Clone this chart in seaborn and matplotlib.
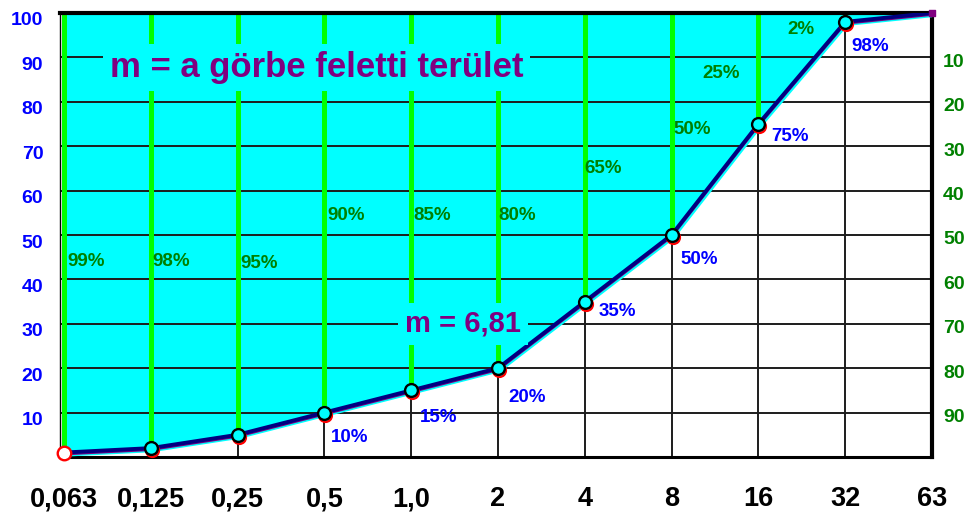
import numpy as np
import pandas as pd
import seaborn as sns
import matplotlib.pyplot as plt
from matplotlib.transforms import ScaledTranslation, offset_copy

# Sieve sizes (mm) and cumulative passing (%)
sizes = ["0,063", "0,125", "0,25", "0,5", "1,0", "2", "4", "8", "16", "32", "63"]
passing = [1, 2, 5, 10, 15, 20, 35, 50, 75, 98, 100]
left_ticks = [10, 20, 30, 40, 50, 60, 70, 80, 90, 100]
right_ticks = [10, 20, 30, 40, 50, 60, 70, 80, 90]
title_text = "m = a görbe feletti terület"
m_text = "m = 6,81"

CYAN = "#00FFFF"
LIME = "#00FF00"
DKGREEN = "#008000"
NAVY = "#000080"
PURPLE = "#800080"
BLUE = "#0000FF"
RED = "#FF0000"
GRID = "#1c1c1c"

sns.set_theme(style="white")
plt.rcParams["font.family"] = ["Liberation Sans", "DejaVu Sans"]

df = pd.DataFrame({"pos": np.arange(len(sizes)), "size": sizes, "passing": passing})
df["retained"] = 100 - df["passing"]

fig = plt.figure(figsize=(9.71, 5.15), dpi=100)
W, H = 971, 515
ax = fig.add_axes([60 / W, 1 - 457 / H, (932 - 60) / W, (457 - 13) / H])
ax.set_xlim(-0.045, 10)
ax.set_ylim(0, 100)

px = 72 / fig.dpi  # points per pixel

# area above the curve
ax.fill_between(df["pos"], df["passing"], 100, color=CYAN, lw=0, zorder=1)

# horizontal grid
for t in left_ticks[:-1]:
    ax.axhline(t, color=GRID, lw=1.4, zorder=2)

# vertical lines: black below the curve, green above it
ax.vlines(df["pos"], 0, df["passing"], color=GRID, lw=1.4, zorder=2)
inner = df.iloc[:-1]
ax.vlines(inner["pos"], inner["passing"], 100, color=LIME, lw=3.6, zorder=3)

# curve with a slight shadow
shadow = offset_copy(ax.transData, fig=fig, x=1.5, y=-2, units="dots")
ax.plot(df["pos"], df["passing"], color=CYAN, lw=3, transform=shadow, zorder=5)
under = offset_copy(ax.transData, fig=fig, x=0, y=-1.5, units="dots")
ax.plot(df["pos"], df["passing"], color=PURPLE, lw=2, transform=under, zorder=5)
sns.lineplot(data=df, x="pos", y="passing", color=NAVY, lw=2.8, ax=ax, zorder=6)

# point markers
mid = df.iloc[1:-1]
red_t = offset_copy(ax.transData, fig=fig, x=1, y=-2, units="dots")
ax.scatter(mid["pos"], mid["passing"], s=85, facecolor=CYAN, edgecolor=RED,
           linewidth=1.7, transform=red_t, zorder=7, clip_on=False)
ax.scatter(mid["pos"], mid["passing"], s=85, facecolor=CYAN, edgecolor="black",
           linewidth=1.7, zorder=8, clip_on=False)
first = df.iloc[:1]
ax.scatter(first["pos"], first["passing"], s=95, facecolor="white", edgecolor=RED,
           linewidth=1.7, zorder=8, clip_on=False)
last = df.iloc[-1:]
ax.scatter(last["pos"], last["passing"], s=18, marker="s", color=PURPLE,
           zorder=8, clip_on=False)

# passing labels (blue) under the points, offsets in pixels
blue_offsets = {3: (7, -25), 4: (9, -27), 5: (10, -29), 6: (14, -10),
                7: (9, -25), 8: (13, -13), 9: (6, -25)}
for i, (dx, dy) in blue_offsets.items():
    ax.annotate(f"{passing[i]}%", (df["pos"][i], passing[i]),
                xytext=(dx * px, dy * px), textcoords="offset points",
                ha="left", va="center", fontsize=13.5, weight="bold",
                color=BLUE, zorder=9)

# retained labels (green) above the curve
green_pos = [(0.04, 44), (1.02, 44), (2.03, 43.5), (3.03, 54.5), (4.03, 54.5),
             (5.0, 54.5), (6.0, 65), (7.02, 73.8), (7.35, 86.3), (8.33, 96.2)]
for i, (gx, gy) in enumerate(green_pos):
    ax.text(gx, gy, f"{df['retained'][i]}%", ha="left", va="center",
            fontsize=13.5, weight="bold", color=DKGREEN, zorder=9)

# annotations with background boxes
ax.text(2.91, 85.5, title_text, ha="center", va="baseline", fontsize=25,
        weight="bold", color=PURPLE, zorder=10,
        bbox=dict(boxstyle="square,pad=0.2", fc=CYAN, ec="none"))
ax.text(4.6, 28.2, m_text, ha="center", va="baseline", fontsize=21,
        weight="bold", color=PURPLE, zorder=10,
        bbox=dict(boxstyle="square,pad=0.25", fc=CYAN, ec="none"))

# axes, ticks and labels
ax.set_xticks(df["pos"])
ax.set_xticklabels(sizes, fontsize=19.5, weight="bold", color="black")
ax.tick_params(axis="x", length=0, pad=21)
ax.set_yticks(left_ticks)
ax.set_yticklabels([str(t) for t in left_ticks], fontsize=14, weight="bold", color=BLUE)
ax.tick_params(axis="y", length=0, pad=12)
for lab in ax.get_yticklabels():
    lab.set_transform(lab.get_transform() + ScaledTranslation(0, -6 / 100, fig.dpi_scale_trans))
ax.set_xlabel("")
ax.set_ylabel("")

for side, lw in [("top", 3), ("right", 3), ("bottom", 2.2), ("left", 1)]:
    ax.spines[side].set_visible(True)
    ax.spines[side].set_color("black")
    ax.spines[side].set_linewidth(lw)
    ax.spines[side].set_zorder(4)

ax2 = ax.twinx()
ax2.set_ylim(100, 0)
ax2.set_yticks(right_ticks)
ax2.set_yticklabels([str(t) for t in right_ticks], fontsize=14, weight="bold", color=DKGREEN)
ax2.tick_params(axis="y", length=0, pad=8)
for lab in ax2.get_yticklabels():
    lab.set_transform(lab.get_transform() + ScaledTranslation(0, -3 / 100, fig.dpi_scale_trans))
for s in ax2.spines.values():
    s.set_visible(False)
ax2.grid(False)

fig.savefig("out.png", dpi=100, facecolor="white")
